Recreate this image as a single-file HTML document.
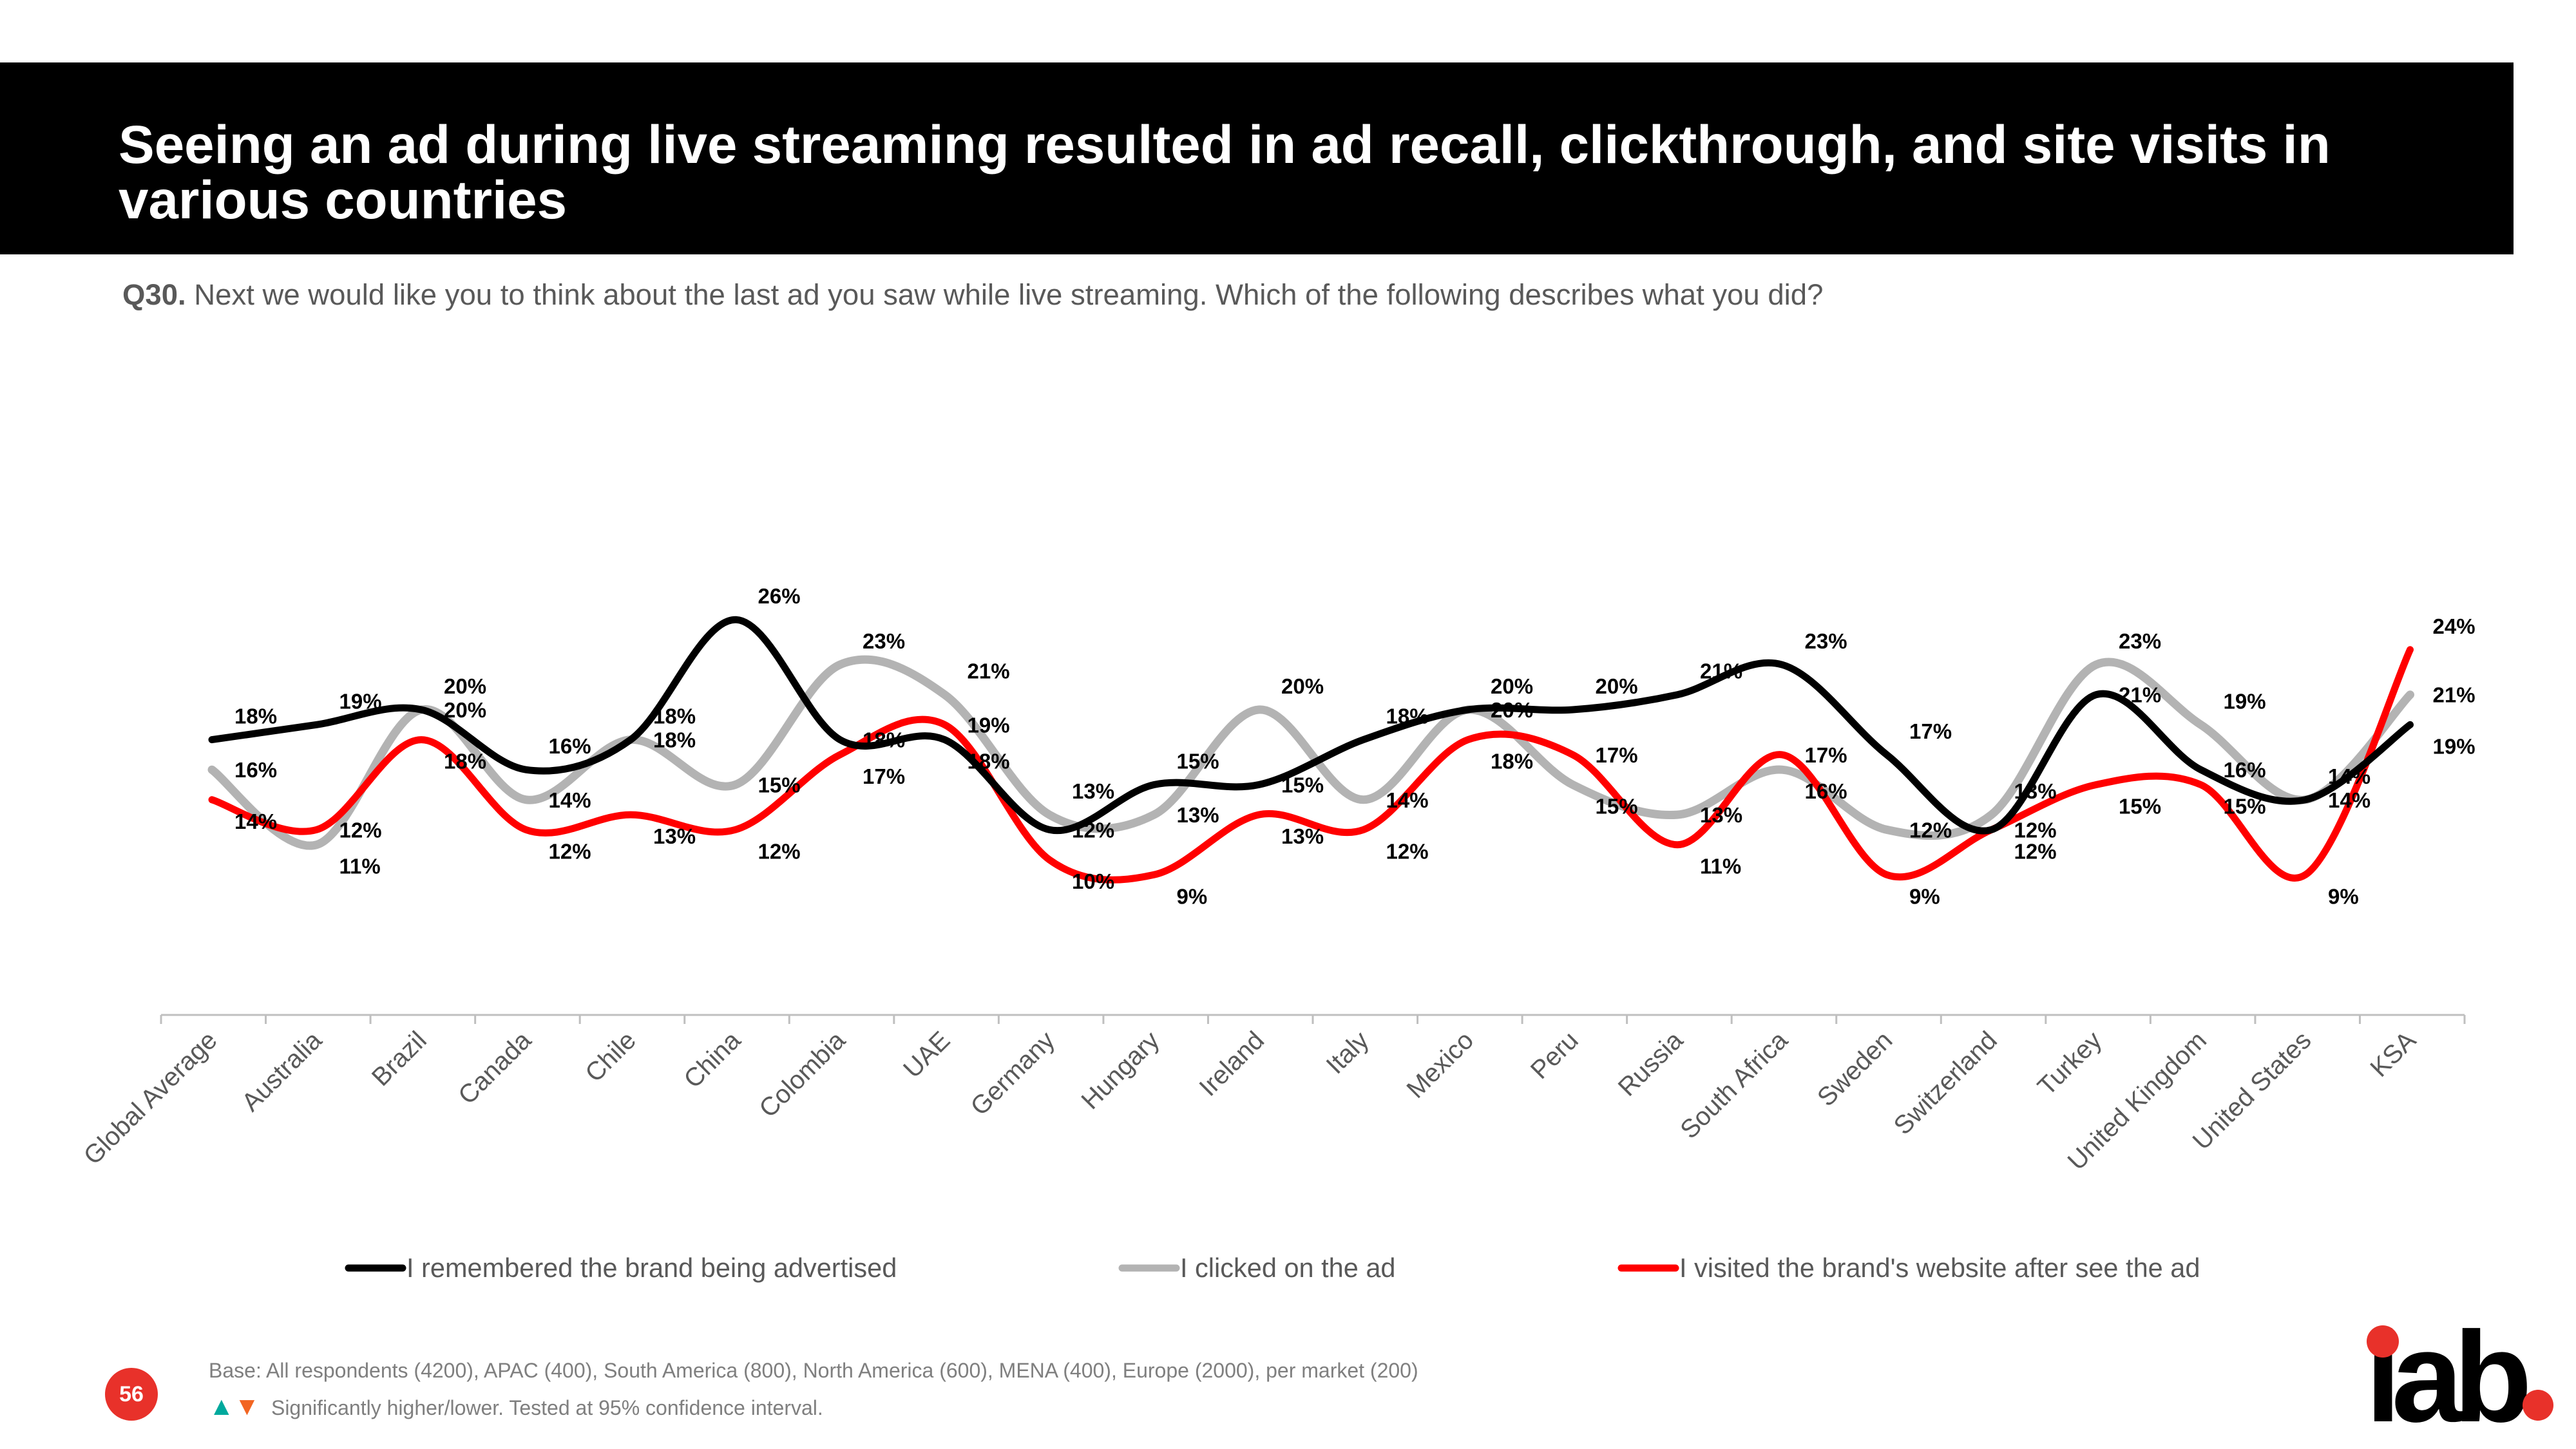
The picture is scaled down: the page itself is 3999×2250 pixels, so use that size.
<!DOCTYPE html>
<html><head><meta charset="utf-8">
<style>
html,body{margin:0;padding:0;background:#fff;}
body{width:3999px;height:2250px;position:relative;overflow:hidden;font-family:"Liberation Sans",Arial,sans-serif;}
#header{position:absolute;left:0;top:97px;width:3902px;height:298px;background:#000;}
#title{position:absolute;left:184px;top:84px;color:#fff;font-weight:bold;font-size:83.5px;line-height:86px;margin:0;white-space:nowrap;}
#subtitle{position:absolute;left:190px;top:432px;font-size:45.5px;color:#595959;white-space:nowrap;}
svg{position:absolute;left:0;top:0;}
.foot{position:absolute;font-size:32px;color:#7f7f7f;white-space:nowrap;}
</style></head>
<body>
<div id="header">
<h1 id="title">Seeing an ad during live streaming resulted in ad recall, clickthrough, and site visits in<br>various countries</h1>
</div>
<div id="subtitle"><b>Q30.</b> Next we would like you to think about the last ad you saw while live streaming. Which of the following describes what you did?</div>

<svg id="chart" width="3999" height="2250"></svg>

<div class="foot" style="left:324px;top:2110px;">Base: All respondents (4200), APAC (400), South America (800), North America (600), MENA (400), Europe (2000), per market (200)</div>
<div class="foot" style="left:324px;top:2162px;"><span style="color:#00a99d;font-size:40px">▲</span><span style="color:#f26522;font-size:40px">▼</span>&nbsp;&nbsp;Significantly higher/lower. Tested at 95% confidence interval.</div>
<div style="position:absolute;left:163px;top:2124px;width:82px;height:82px;border-radius:50%;background:#e8312a;color:#fff;font-weight:bold;font-size:34px;text-align:center;line-height:82px;">56</div>
<div style="position:absolute;left:3672px;top:2039px;font-weight:bold;font-size:200px;letter-spacing:-15px;color:#000;line-height:200px;white-space:nowrap;">iab</div>
<div style="position:absolute;left:3674px;top:2058px;width:50px;height:50px;border-radius:50%;background:#e8312a;"></div>
<div style="position:absolute;left:3916px;top:2158px;width:48px;height:48px;border-radius:50%;background:#e8312a;"></div>

<script>
const categories = ["Global Average","Australia","Brazil","Canada","Chile","China","Colombia","UAE","Germany","Hungary","Ireland","Italy","Mexico","Peru","Russia","South Africa","Sweden","Switzerland","Turkey","United Kingdom","United States","KSA"];
const remembered = [18,19,20,16,18,26,18,18,12,15,15,18,20,20,21,23,17,12,21,16,14,19];
const clicked = [16,11,20,14,18,15,23,21,13,13,20,14,20,15,13,16,12,13,23,19,14,21];
const visited = [14,12,18,12,13,12,17,19,10,9,13,12,18,17,11,17,9,12,15,15,9,24];
const seriesNames = ["I remembered the brand being advertised","I clicked on the ad","I visited the brand's website after see the ad"];

const NS="http://www.w3.org/2000/svg";
const svg=document.getElementById('chart');
const x0=329, dx=162.5;
function xPos(i){return x0+i*dx;}
function yPos(v){return 1568-23.3*v;}
function mk(tag,attrs){const e=document.createElementNS(NS,tag);for(const k in attrs)e.setAttribute(k,attrs[k]);svg.appendChild(e);return e;}

const ax=mk('line',{x1:250,y1:1576,x2:3826,y2:1576,stroke:'#bfbfbf','stroke-width':3});


for(let i=0;i<=categories.length;i++){
  const tx=250+i*(3826-250)/categories.length;
  const t=mk('line',{x1:tx,y1:1576,x2:tx,y2:1590,stroke:'#bfbfbf','stroke-width':3});
  
  
}
categories.forEach((c,i)=>{
  const cx=250+(i+0.5)*(3826-250)/categories.length+8;
  const t=mk('text',{x:cx,y:1618,'text-anchor':'end','font-size':40,fill:'#595959',transform:`rotate(-45 ${cx} 1618)`});
  t.textContent=c;
  
  
});

function smoothPath(vals){
  const p=vals.map((v,i)=>[xPos(i),yPos(v)]);
  let d=`M${p[0][0]},${p[0][1]}`;
  for(let i=0;i<p.length-1;i++){
    const a=p[Math.max(i-1,0)],b=p[i],c=p[i+1],e=p[Math.min(i+2,p.length-1)];
    const c1=[b[0]+(c[0]-a[0])/6,b[1]+(c[1]-a[1])/6];
    const c2=[c[0]-(e[0]-b[0])/6,c[1]-(e[1]-b[1])/6];
    d+=` C${c1[0]},${c1[1]} ${c2[0]},${c2[1]} ${c[0]},${c[1]}`;
  }
  return d;
}
const series=[[remembered,'#000',11,'remembered-line'],[clicked,'#b3b3b3',13,'clicked-line'],[visited,'#ff0000',11,'visited-line']];
[1,2,0].forEach(k=>{
  const s=series[k];
  const p=mk('path',{d:smoothPath(s[0]),fill:'none',stroke:s[1],'stroke-width':s[2],'stroke-linecap':'round'});
  
  
});
categories.forEach((c,i)=>{
  const vals=[remembered[i],clicked[i],visited[i]];
  const order=[0,1,2].sort((a,b)=>vals[b]-vals[a]);
  const base=yPos(vals[order[0]])-25;
  order.forEach((k,j)=>{
    let ly=yPos(vals[k])+12;
    if(j===0) ly=Math.min(ly,base);
    if(j===2) ly=yPos(vals[k])+45;
    const t=mk('text',{x:xPos(i)+35,y:ly,'font-size':33,'font-weight':'bold',fill:'#000'});
    t.textContent=vals[k]+'%';
    
    
  });
});
const legX=[541,1742,2517], legC=['#000','#b3b3b3','#ff0000'];
seriesNames.forEach((n,i)=>{
  const l=mk('line',{x1:legX[i],y1:1969,x2:legX[i]+84,y2:1969,stroke:legC[i],'stroke-width':11,'stroke-linecap':'round'});
  
  
  const t=mk('text',{x:legX[i]+90,y:1983,'font-size':41.5,fill:'#595959'});
  t.textContent=n;
  
  
});
</script>
</body></html>
